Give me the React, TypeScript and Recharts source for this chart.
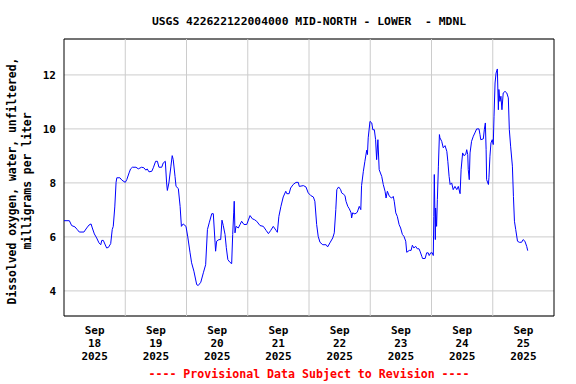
import { LineChart, Line, XAxis, YAxis, CartesianGrid, ReferenceLine, ReferenceArea } from 'recharts';

// hours since Sep 18 2025 00:00
const hoursSinceSep18 = [
  0, 2.1, 3.0, 4.3, 5.2, 6.0, 7.8, 8.9, 9.8, 10.6,
  11.1, 11.9, 12.8, 13.7, 14.4, 14.8, 15.4, 16.7, 17.4, 18.3,
  18.9, 19.3, 19.9, 20.4, 20.7, 21.9, 22.7, 24.0, 24.6, 25.5,
  26.1, 26.8, 28.2, 29.1, 30.4, 31.3, 32.1, 32.6, 33.3, 34.4,
  35.0, 35.9, 36.6, 37.2, 38.3, 38.9, 39.7, 40.2, 40.5, 41.1,
  41.9, 42.4, 42.8, 43.5, 43.9, 44.8, 45.5, 46.0, 46.7, 47.8,
  48.5, 49.4, 50.0, 50.9, 52.0, 52.6, 53.6, 54.6, 55.5, 56.2,
  56.9, 57.9, 58.5, 59.2, 59.4, 59.8, 60.7, 61.4, 61.9, 62.4,
  63.1, 63.6, 64.2, 65.0, 65.7, 66.1, 66.5, 66.7, 67.0, 67.4,
  68.3, 69.0, 69.6, 70.5, 71.6, 72.9, 73.8, 74.6, 75.5, 76.8,
  78.1, 79.2, 80.1, 81.0, 82.0, 83.1, 83.6, 84.2, 85.0, 85.9,
  86.9, 87.3, 88.2, 88.8, 89.8, 90.9, 91.8, 92.2, 93.8, 94.8,
  95.7, 96.7, 97.7, 98.3, 99.0, 99.6, 100.3, 101.4, 102.7, 103.3,
  104.2, 105.3, 105.9, 106.5, 106.9, 107.6, 108.4, 108.8, 109.4, 110.1,
  110.5, 111.2, 111.8, 112.5, 112.7, 113.1, 114.0, 114.9, 115.7, 116.3,
  116.6, 117.3, 117.9, 118.6, 118.9, 119.2, 119.9, 120.6, 121.0, 121.6,
  122.1, 122.5, 123.0, 123.5, 124.5, 125.1, 125.8, 126.2, 126.7, 127.5,
  128.4, 129.0, 129.4, 130.0, 130.6, 131.3, 131.9, 132.6, 133.2, 133.9,
  134.3, 135.3, 136.0, 136.5, 137.1, 137.8, 138.4, 139.1, 139.5, 140.2,
  140.5, 141.5, 142.1, 142.7, 143.1, 143.7, 144.3, 144.7, 144.9, 145.1,
  145.5, 145.6, 146.0, 146.3, 146.7, 147.1, 147.3, 148.0, 148.6, 149.3,
  150.0, 150.4, 150.9, 151.3, 151.9, 152.5, 153.2, 153.9, 154.5, 155.2,
  155.6, 156.2, 156.7, 157.4, 157.8, 158.2, 158.4, 158.8, 159.1, 159.7,
  160.4, 161.0, 161.7, 162.6, 163.0, 163.3, 164.3, 164.7, 165.1, 165.4,
  165.6, 166.3, 166.5, 166.9, 167.3, 167.8, 168.2, 168.5, 168.9, 169.3,
  169.8, 170.2, 170.4, 170.8, 171.2, 171.6, 172.1, 172.8, 173.5, 174.1,
  174.5, 175.0, 175.7, 176.1, 176.5, 177.0, 177.7, 178.4, 179.3, 179.9,
  180.6, 181.3, 181.7,
];

// dissolved oxygen, mg/L
const dissolvedOxygen = [
  6.60, 6.60, 6.42, 6.37, 6.27, 6.18, 6.18, 6.33, 6.44, 6.48,
  6.33, 6.11, 5.96, 5.78, 5.71, 5.87, 5.87, 5.59, 5.61, 5.75,
  6.27, 6.39, 7.11, 8.02, 8.19, 8.19, 8.10, 8.02, 8.12, 8.37,
  8.52, 8.58, 8.58, 8.52, 8.58, 8.56, 8.47, 8.52, 8.41, 8.43,
  8.56, 8.80, 8.80, 8.58, 8.58, 8.74, 8.80, 8.00, 7.72, 8.00,
  8.62, 9.01, 8.86, 8.24, 7.87, 7.79, 7.13, 6.39, 6.48, 6.39,
  6.00, 5.41, 5.04, 4.73, 4.23, 4.20, 4.32, 4.67, 4.97, 6.27,
  6.52, 6.86, 6.86, 5.78, 5.47, 5.84, 5.90, 5.90, 6.62, 6.42,
  6.09, 5.60, 5.16, 5.06, 5.01, 6.09, 6.89, 7.32, 6.15, 6.39,
  6.33, 6.46, 6.58, 6.46, 6.46, 6.79, 6.67, 6.64, 6.58, 6.42,
  6.39, 6.24, 6.12, 6.24, 6.39, 6.24, 6.17, 6.76, 7.13, 7.48,
  7.69, 7.60, 7.60, 7.81, 7.94, 8.02, 8.02, 7.87, 7.90, 7.85,
  7.63, 7.53, 7.48, 7.32, 6.46, 6.02, 5.80, 5.71, 5.71, 5.63,
  5.78, 5.96, 6.15, 7.01, 7.75, 7.85, 7.75, 7.63, 7.59, 7.53,
  7.32, 7.13, 7.04, 6.89, 6.70, 6.89, 6.85, 6.91, 7.13, 7.01,
  7.90, 8.43, 8.80, 9.21, 9.05, 9.67, 10.28, 10.22, 9.97, 9.97,
  9.60, 8.86, 9.60, 8.49, 8.24, 7.94, 7.69, 7.44, 7.69, 7.50,
  7.44, 7.50, 7.32, 6.89, 6.76, 6.46, 6.33, 6.09, 6.02, 5.84,
  5.43, 5.50, 5.50, 5.69, 5.59, 5.65, 5.56, 5.56, 5.47, 5.28,
  5.20, 5.20, 5.41, 5.41, 5.31, 5.41, 5.41, 5.31, 6.76, 8.31,
  5.90, 7.07, 6.39, 7.38, 8.62, 9.79, 9.67, 9.54, 9.30, 9.38,
  9.17, 8.80, 8.24, 7.94, 8.00, 7.75, 7.87, 7.75, 7.87, 7.60,
  8.49, 9.11, 9.01, 9.05, 9.23, 9.05, 8.49, 8.12, 9.11, 9.54,
  9.73, 9.85, 10.00, 10.00, 9.79, 9.60, 9.63, 9.97, 10.22, 9.23,
  8.12, 7.94, 8.19, 8.99, 9.48, 9.60, 9.42, 10.47, 11.70, 12.07,
  12.22, 10.71, 11.46, 11.02, 11.21, 10.71, 11.33, 11.39, 11.33, 11.15,
  9.97, 9.36, 8.62, 7.50, 6.58, 6.27, 5.84, 5.80, 5.80, 5.90,
  5.84, 5.65, 5.49,
];

const dayLabels = ['18', '19', '20', '21', '22', '23', '24', '25'];
const labelHours = [12, 36, 60, 84, 108, 132, 156, 180];
const midnightHours = [24, 48, 72, 96, 120, 144, 168];
const yTicks = [4, 6, 8, 10, 12];

const X_DOMAIN: [number, number] = [0, 192];
const Y_DOMAIN: [number, number] = [3.07, 13.33];
const FONT = '"DejaVu Sans Mono", monospace';

const data = hoursSinceSep18.map((h, i) => ({ h, value: dissolvedOxygen[i] }));

const DayTick = ({ x, y, payload }: any) => {
  const i = labelHours.indexOf(payload.value);
  return (
    <text textAnchor="middle" fontFamily={FONT} fontWeight="bold" fontSize={11} fill="#000">
      <tspan x={x} y={y + 17.5}>Sep</tspan>
      <tspan x={x} y={y + 30.5}>{dayLabels[i]}</tspan>
      <tspan x={x} y={y + 43.5}>2025</tspan>
    </text>
  );
};

export default function App() {
  return (
    <div style={{ position: 'absolute', left: 0, top: 0, width: 576, height: 384, background: '#fff' }}>
      <LineChart width={576} height={384} data={data} margin={{ top: 39, right: 22, bottom: 0, left: 0 }}>
        <CartesianGrid vertical={false} stroke="#cccccc" />
        {midnightHours.map((h) => (
          <ReferenceLine key={h} x={h} stroke="#cccccc" />
        ))}
        <XAxis
          type="number"
          dataKey="h"
          domain={X_DOMAIN}
          ticks={labelHours}
          height={68}
          tickLine={false}
          axisLine={false}
          tickSize={0}
          tickMargin={0}
          interval={0}
          tick={<DayTick />}
        />
        <YAxis
          type="number"
          domain={Y_DOMAIN}
          ticks={yTicks}
          allowDataOverflow
          width={64}
          tickLine={false}
          axisLine={false}
          tickSize={0}
          tickMargin={8}
          interval={0}
          tick={{ fontFamily: FONT, fontWeight: 'bold', fontSize: 11, fill: '#000' }}
        />
        <Line
          type="linear"
          dataKey="value"
          stroke="#0000ff"
          strokeWidth={1}
          dot={false}
          isAnimationActive={false}
        />
        <ReferenceArea x1={0} x2={192} y1={Y_DOMAIN[0]} y2={Y_DOMAIN[1]} fill="none" stroke="#000" strokeWidth={1} />
      </LineChart>
      <svg width={576} height={384} style={{ position: 'absolute', left: 0, top: 0, pointerEvents: 'none' }}>
        <text x={309} y={25} textAnchor="middle" fontFamily={FONT} fontWeight="bold" fontSize={11.35} fill="#000" style={{ whiteSpace: 'pre' }}>
          {'USGS 422622122004000 MID-NORTH - LOWER  - MDNL'}
        </text>
        <text transform="rotate(-90)" textAnchor="middle" fontFamily={FONT} fontWeight="bold" fontSize={11.4} fill="#000">
          <tspan x={-181} y={16}>Dissolved oxygen, water, unfiltered,</tspan>
          <tspan x={-181} y={30.5}>milligrams per liter</tspan>
        </text>
        <text x={309} y={378} textAnchor="middle" fontFamily={FONT} fontWeight="bold" fontSize={11.6} fill="#ff0000">
          ---- Provisional Data Subject to Revision ----
        </text>
      </svg>
    </div>
  );
}
